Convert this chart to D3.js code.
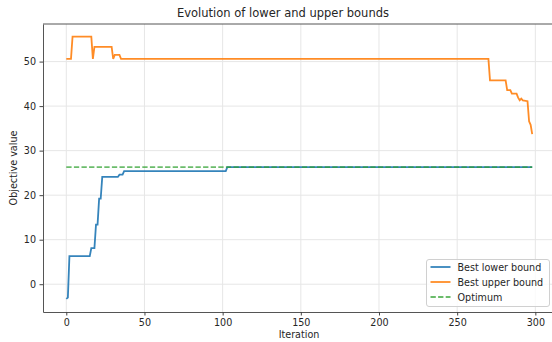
<!DOCTYPE html>
<html>
<head>
<meta charset="utf-8">
<script src="https://cdn.jsdelivr.net/npm/d3@7"></script>
<style>
  body { margin: 0; background: #fff; }
  text { font-family: "DejaVu Sans", sans-serif; fill: #262626; }
</style>
</head>
<body>
<script>
// Data (breakpoints)
const lowerIter = [0, 1, 2, 15, 16, 18, 19, 20, 21, 22, 23, 33, 34, 36, 37, 102, 103, 298];
const lowerValue = [-3.3, -3.0, 6.3, 6.3, 8.1, 8.1, 13.4, 13.4, 19.2, 19.2, 24.1, 24.1, 24.6, 24.6, 25.4, 25.4, 26.3, 26.3];
const upperIter = [0, 3, 4, 16, 17, 18, 29, 30, 31, 34, 35, 270, 271, 281, 282, 284, 285, 288, 289, 290, 291, 292, 295, 296, 297, 298];
const upperValue = [50.6, 50.6, 55.6, 55.6, 50.6, 53.3, 53.3, 50.6, 51.5, 51.5, 50.6, 50.6, 45.8, 45.8, 43.6, 43.6, 42.8, 42.8, 41.9, 41.3, 41.7, 41.3, 41.1, 36.6, 35.8, 33.7];
const optimumIter = [0, 298];
const optimumValue = [26.3, 26.3];
const xTicks = [0, 50, 100, 150, 200, 250, 300];
const yTicks = [0, 10, 20, 30, 40, 50];
const legendLabels = ['Best lower bound', 'Best upper bound', 'Optimum'];

// Constants
const width = 552;
const height = 342;
const colors = ['#1f77b4', '#ff7f0e', '#2ca02c'];

const svg = d3.select('body')
    .append('svg')
    .attr('width', width)
    .attr('height', height);

// Scales
const x = d3.scaleLinear().domain([-14.9, 312.9]).range([43, 555.5]);
const y = d3.scaleLinear().domain([-6.24, 58.44]).range([312, 24]);

// Grid
const grid = svg.append('g').attr('stroke', '#e6e6e6').attr('stroke-width', 1);
grid.selectAll('.gx').data(xTicks).join('line')
    .attr('x1', d => x(d)).attr('x2', d => x(d))
    .attr('y1', y.range()[0]).attr('y2', y.range()[1]);
grid.selectAll('.gy').data(yTicks).join('line')
    .attr('x1', x.range()[0]).attr('x2', x.range()[1])
    .attr('y1', d => y(d)).attr('y2', d => y(d));

// Lines
const line = d3.line().x(d => x(d[0])).y(d => y(d[1]));
const series = [
    d3.zip(lowerIter, lowerValue),
    d3.zip(upperIter, upperValue),
    d3.zip(optimumIter, optimumValue)
];
svg.append('g').selectAll('path')
    .data(series)
    .join('path')
    .attr('fill', 'none')
    .attr('stroke', (d, i) => colors[i])
    .attr('stroke-width', 1.8)
    .attr('stroke-opacity', (d, i) => i === 2 ? 0.7 : 0.9)
    .attr('stroke-dasharray', (d, i) => i === 2 ? '5.3,2.3' : null)
    .attr('d', line);

// Axes
const xAxis = svg.append('g')
    .attr('transform', `translate(0,${y.range()[0]})`)
    .call(d3.axisBottom(x).tickValues(xTicks).tickSizeInner(3.5).tickSizeOuter(0).tickPadding(3.5));
const yAxis = svg.append('g')
    .attr('transform', `translate(${x.range()[0]},0)`)
    .call(d3.axisLeft(y).tickValues(yTicks).tickSizeInner(3.5).tickSizeOuter(0).tickPadding(3.5));
[xAxis, yAxis].forEach(a => {
    a.selectAll('text').style('font-size', '9.6px').attr('fill', '#262626');
    a.selectAll('line').attr('stroke', '#444');
    a.select('.domain').attr('stroke', '#555').attr('stroke-width', 1);
});

// Top spine
svg.append('line')
    .attr('x1', x.range()[0]).attr('x2', x.range()[1])
    .attr('y1', y.range()[1]).attr('y2', y.range()[1])
    .attr('stroke', '#555');

// Titles
svg.append('text')
    .attr('x', 283).attr('y', 17)
    .attr('text-anchor', 'middle')
    .style('font-size', '11.5px')
    .text('Evolution of lower and upper bounds');
svg.append('text')
    .attr('x', 299).attr('y', 338)
    .attr('text-anchor', 'middle')
    .style('font-size', '9.6px')
    .text('Iteration');
svg.append('text')
    .attr('transform', 'translate(17,168) rotate(-90)')
    .attr('text-anchor', 'middle')
    .style('font-size', '9.6px')
    .text('Objective value');

// Legend
const legend = svg.append('g').attr('transform', 'translate(426.5,259.5)');
legend.append('rect')
    .attr('width', 123).attr('height', 47)
    .attr('rx', 2.5)
    .attr('fill', '#fff').attr('fill-opacity', 0.8)
    .attr('stroke', '#d0d0d0');
legendLabels.forEach((label, i) => {
    const row = legend.append('g').attr('transform', `translate(0,${7.5 + i * 15})`);
    row.append('line')
        .attr('x1', 4).attr('x2', 24)
        .attr('stroke', colors[i])
        .attr('stroke-width', 1.8)
        .attr('stroke-opacity', i === 2 ? 0.7 : 0.9)
        .attr('stroke-dasharray', i === 2 ? '5.3,2.3' : null);
    row.append('text')
        .attr('x', 31).attr('y', 3.5)
        .style('font-size', '9.6px')
        .text(label);
});
</script>
</body>
</html>
